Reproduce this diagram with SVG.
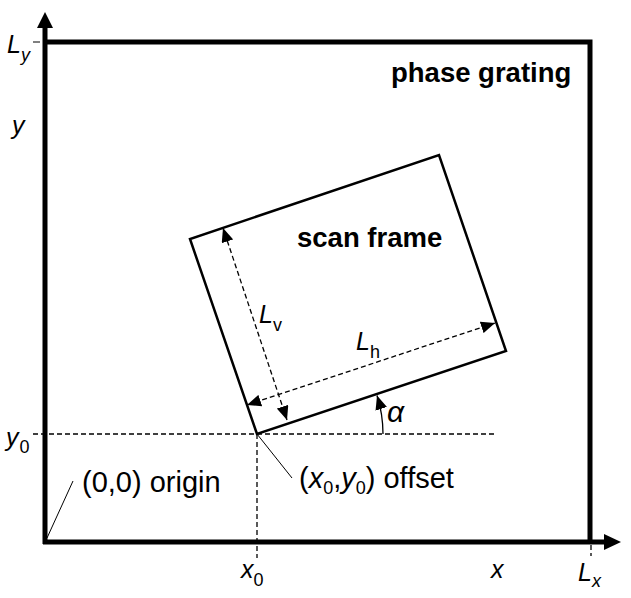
<svg xmlns="http://www.w3.org/2000/svg" width="631" height="598" viewBox="0 0 631 598">
<defs>
<style>
text{font-family:"Liberation Sans",Arial,sans-serif;fill:#000}
.b{font-weight:bold;font-size:27.5px}
.r{font-size:29px}
.i{font-style:italic;font-size:25px}
.s{font-size:18px;font-style:normal}
.si{font-size:18px;font-style:italic}
.dash{stroke:#000;stroke-width:1.3;stroke-dasharray:5 3;fill:none}
.thin{stroke:#000;stroke-width:1;fill:none}
</style>
<marker id="ah" viewBox="0 0 14 12" refX="14" refY="6" markerWidth="14" markerHeight="12" markerUnits="userSpaceOnUse" orient="auto-start-reverse">
<path d="M0,0 L14,6 L0,12 Z" fill="#000"/>
</marker>
</defs>
<g id="axes">
<line x1="45" y1="544" x2="45" y2="27" stroke="#000" stroke-width="5"/>
<polygon points="45,12 37,28 53,28" fill="#000"/>
<line x1="43" y1="542" x2="605" y2="542" stroke="#000" stroke-width="5"/>
<polygon points="621,542 604,534 604,550" fill="#000"/>
</g>
<g id="phase-grating">
<polyline points="43,42 590,42 590,542" fill="none" stroke="#000" stroke-width="5"/>
<text class="b" x="391" y="82">phase grating</text>
</g>
<g id="scan-frame">
<polygon points="257,434 190,239 439,155 506,351" fill="none" stroke="#000" stroke-width="2.5" stroke-linejoin="miter"/>
<text class="b" x="297" y="247">scan frame</text>
</g>
<g id="connectors">
<line class="dash" x1="287" y1="420" x2="223" y2="228" marker-start="url(#ah)" marker-end="url(#ah)"/>
<line class="dash" x1="247" y1="405" x2="495" y2="323" marker-start="url(#ah)" marker-end="url(#ah)"/>
<line class="dash" x1="33" y1="434" x2="497" y2="434"/>
<line class="dash" x1="257" y1="434" x2="257" y2="558"/>
<line class="dash" x1="591" y1="545" x2="591" y2="556" stroke-dasharray="4 2"/>
<line class="thin" x1="33" y1="42" x2="40" y2="42"/>
<line class="thin" x1="47" y1="538" x2="73" y2="481"/>
<line class="thin" x1="257" y1="434" x2="292" y2="478"/>
<path d="M383,434 A126,126 0 0 0 377,395.5" fill="none" stroke="#000" stroke-width="1.3" marker-end="url(#ah)"/>
</g>
<g id="labels">
<text class="i" x="7" y="53">L<tspan class="si" dy="8">y</tspan></text>
<text class="i" x="12" y="134">y</text>
<text class="i" x="6" y="446">y<tspan class="s" dx="1" dy="7">0</tspan></text>
<text class="i" x="241" y="578">x<tspan class="s" dy="8">0</tspan></text>
<text class="i" x="491" y="578">x</text>
<text class="i" x="578" y="581">L<tspan class="si" dy="6">x</tspan></text>
<text class="i" x="259" y="323">L<tspan class="s" dy="8">v</tspan></text>
<text class="i" x="356" y="350">L<tspan class="s" dy="8">h</tspan></text>
<text x="387" y="422" font-family="Liberation Serif,serif" font-style="italic" font-size="30">α</text>
<text class="r" x="82" y="492">(0,0) origin</text>
<text class="r" x="299" y="488">(<tspan font-style="italic">x</tspan><tspan class="s" dy="6">0</tspan><tspan dy="-6">,</tspan><tspan font-style="italic">y</tspan><tspan class="s" dy="6">0</tspan><tspan dy="-6">) offset</tspan></text>
</g>
</svg>
